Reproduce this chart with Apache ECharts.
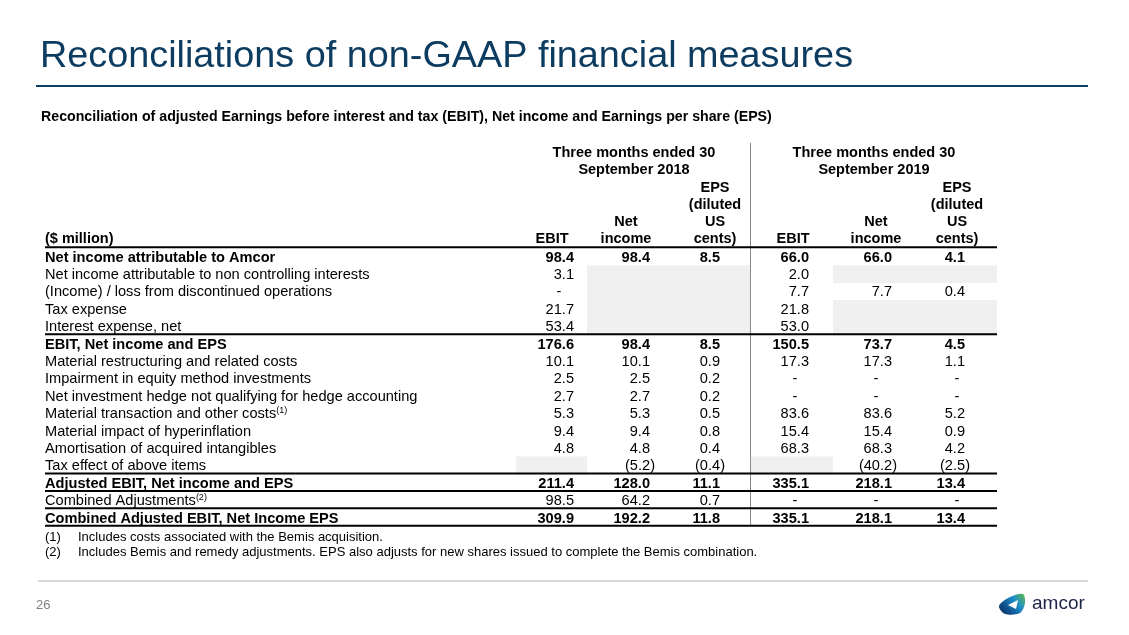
<!DOCTYPE html>
<html>
<head>
<meta charset="utf-8">
<script src="https://cdn.jsdelivr.net/npm/echarts@6/dist/echarts.min.js"></script>
<style>html,body{margin:0;padding:0;background:#fff}#c{width:1129px;height:635px}</style>
</head>
<body>
<div id="c"></div>
<script>
// ---------------- DATA ----------------
const titleText = 'Reconciliations of non-GAAP financial measures';
const subtitleText = 'Reconciliation of adjusted Earnings before interest and tax (EBIT), Net income and Earnings per share (EPS)';
const periodHeaders = ['Three months ended 30\nSeptember 2018', 'Three months ended 30\nSeptember 2019'];
const columnHeaders = ['EBIT', 'Net\nincome', 'EPS\n(diluted\nUS\ncents)', 'EBIT', 'Net\nincome', 'EPS\n(diluted\nUS\ncents)'];
const unitLabel = '($ million)';
const rowLabels = [
  'Net income attributable to Amcor',
  'Net income attributable to non controlling interests',
  '(Income) / loss from discontinued operations',
  'Tax expense',
  'Interest expense, net',
  'EBIT, Net income and EPS',
  'Material restructuring and related costs',
  'Impairment in equity method investments',
  'Net investment hedge not qualifying for hedge accounting',
  'Material transaction and other costs',
  'Material impact of hyperinflation',
  'Amortisation of acquired intangibles',
  'Tax effect of above items',
  'Adjusted EBIT, Net income and EPS',
  'Combined Adjustments',
  'Combined Adjusted EBIT, Net Income EPS'
];
const rowNoteMarks = [null, null, null, null, null, null, null, null, null, '(1)', null, null, null, null, '(2)', null];
const boldRows = [0, 5, 13, 15];
const ebit2018      = [98.4, 3.1, '-', 21.7, 53.4, 176.6, 10.1, 2.5, 2.7, 5.3, 9.4, 4.8, null, 211.4, 98.5, 309.9];
const netIncome2018 = [98.4, null, null, null, null, 98.4, 10.1, 2.5, 2.7, 5.3, 9.4, 4.8, -5.2, 128.0, 64.2, 192.2];
const eps2018       = [8.5, null, null, null, null, 8.5, 0.9, 0.2, 0.2, 0.5, 0.8, 0.4, -0.4, 11.1, 0.7, 11.8];
const ebit2019      = [66.0, 2.0, 7.7, 21.8, 53.0, 150.5, 17.3, '-', '-', 83.6, 15.4, 68.3, null, 335.1, '-', 335.1];
const netIncome2019 = [66.0, null, 7.7, null, null, 73.7, 17.3, '-', '-', 83.6, 15.4, 68.3, -40.2, 218.1, '-', 218.1];
const eps2019       = [4.1, null, 0.4, null, null, 4.5, 1.1, '-', '-', 5.2, 0.9, 4.2, -2.5, 13.4, '-', 13.4];
// shaded (not applicable) cells: [row, column]
const shadedCells = [[1,1],[1,2],[2,1],[2,2],[3,1],[3,2],[4,1],[4,2],[1,4],[1,5],[3,4],[3,5],[4,4],[4,5],[12,0],[12,3]];
// rules drawn below these rows (-1 = below header)
const ruleAfterRows = [-1, 4, 12, 13, 14, 15];
const footnoteMarks = ['(1)', '(2)'];
const footnoteTexts = [
  'Includes costs associated with the Bemis acquisition.',
  'Includes Bemis and remedy adjustments. EPS also adjusts for new shares issued to complete the Bemis combination.'
];
const pageNumber = '26';
const logoText = 'amcor';

// ---------------- LAYOUT / STYLE ----------------
const valueColumns = [ebit2018, netIncome2018, eps2018, ebit2019, netIncome2019, eps2019];
const FONT = '"Liberation Sans", Arial, Helvetica, sans-serif';
const NAVY = '#0d3c61';
const HEADER_ROWS = 6;
const BODY_SIZE = 14.6;
const TEXT_DY = 1.5;
const COL_RIGHT = [574, 650, 720, 809, 892, 965];
const COL_CENTER = [552, 626, 715, 793, 876, 957];
const DASH_CENTER = [559, 635, 711, 795, 876, 957];
const SHADE_LEFT = [516, 587, 668, 751, 833, 915];
const SHADE_RIGHT = [587, 668, 750, 833, 915, 997];
const PERIOD_CENTER = [634, 874];
const TABLE_LEFT = 45, TABLE_RIGHT = 997, DIVIDER_X = 750.5, LABEL_X = 45;
const PAREN_HANG = 5;
const FOOT_SIZE = 13;

const yCats = Array.from({length: HEADER_ROWS}, (_, i) => 'hdr' + i).concat(rowLabels);

function fmt(v) {
  if (v === '-') return '-';
  if (v < 0) return '(' + Math.abs(v).toFixed(1) + ')';
  return v.toFixed(1);
}
function band(api) { return api.size([0, 1])[1]; }
function cy(api, absRow) { return api.coord([0, absRow])[1]; }
function cx(api, x) { return api.coord([x, 0])[0]; }

const cellData = [];
valueColumns.forEach((col, c) => col.forEach((v, r) => { if (v !== null) cellData.push([c, r + HEADER_ROWS]); }));

const chart = echarts.init(document.getElementById('c'), null, {width: 1129, height: 635});
chart.setOption({
  animation: false,
  backgroundColor: '#fff',
  title: [
    {text: titleText, left: 40, top: 37.5, padding: 0,
     textStyle: {fontFamily: FONT, fontSize: 37.8, fontWeight: 'normal', color: NAVY}},
    {text: subtitleText, left: 41, top: 110.5, padding: 0,
     textStyle: {fontFamily: FONT, fontSize: 14.2, fontWeight: 'bold', color: '#000'}}
  ],
  grid: {left: 0, right: 0, top: 142.9, height: 382.8, containLabel: false},
  xAxis: {type: 'value', min: 0, max: 1129, show: false},
  yAxis: {type: 'category', data: yCats, inverse: true, show: false},
  series: [
    { // shaded cells
      type: 'custom', silent: true, clip: false,
      data: shadedCells.map(([r, c]) => [c, r + HEADER_ROWS]),
      renderItem(params, api) {
        const c = api.value(0), y = cy(api, api.value(1)), h = band(api);
        const x0 = cx(api, SHADE_LEFT[c]), x1 = cx(api, SHADE_RIGHT[c]);
        return {type: 'rect', shape: {x: x0, y: y - h / 2 + 0.5, width: x1 - x0, height: h + 0.5},
                style: {fill: '#f0f0f0'}};
      }
    },
    { // vertical divider
      type: 'custom', silent: true, clip: false,
      data: [[DIVIDER_X, 0]],
      renderItem(params, api) {
        const h = band(api);
        const top = cy(api, 0) - h / 2, bottom = cy(api, yCats.length - 1) + h / 2;
        const x = cx(api, api.value(0));
        return {type: 'line', shape: {x1: x, y1: top, x2: x, y2: bottom},
                style: {stroke: '#8a8a8a', lineWidth: 1}};
      }
    },
    { // horizontal rules
      type: 'custom', silent: true, clip: false,
      data: ruleAfterRows.map(r => [0, r + HEADER_ROWS]),
      renderItem(params, api) {
        const y = cy(api, api.value(1)) + band(api) / 2;
        return {type: 'line', shape: {x1: cx(api, TABLE_LEFT), y1: y, x2: cx(api, TABLE_RIGHT), y2: y},
                style: {stroke: '#000', lineWidth: 2}};
      }
    },
    { // row labels
      type: 'custom', silent: true, clip: false,
      data: rowLabels.map((l, r) => [LABEL_X, r + HEADER_ROWS]),
      renderItem(params, api) {
        const r = params.dataIndex;
        const bold = boldRows.includes(r);
        const note = rowNoteMarks[r];
        return {type: 'text', style: {
          x: cx(api, api.value(0)), y: cy(api, api.value(1)) + TEXT_DY,
          text: rowLabels[r] + (note ? '{sup|' + note + '}' : ''),
          rich: {sup: {fontSize: 9, fontFamily: FONT, fill: '#000', verticalAlign: 'top', lineHeight: 16}},
          align: 'left', verticalAlign: 'middle',
          fontFamily: FONT, fontSize: BODY_SIZE, fontWeight: bold ? 'bold' : 'normal', fill: '#000'
        }};
      }
    },
    { // value cells
      type: 'custom', silent: true, clip: false,
      data: cellData,
      renderItem(params, api) {
        const c = api.value(0), absRow = api.value(1), r = absRow - HEADER_ROWS;
        const v = valueColumns[c][r];
        const bold = boldRows.includes(r);
        let x, align;
        if (v === '-') { x = cx(api, DASH_CENTER[c]); align = 'center'; }
        else if (v < 0) { x = cx(api, COL_RIGHT[c] + PAREN_HANG); align = 'right'; }
        else { x = cx(api, COL_RIGHT[c]); align = 'right'; }
        return {type: 'text', style: {
          x: x, y: cy(api, absRow) + TEXT_DY, text: fmt(v), align: align, verticalAlign: 'middle',
          fontFamily: FONT, fontSize: BODY_SIZE, fontWeight: bold ? 'bold' : 'normal', fill: '#000'
        }};
      }
    },
    { // period headers
      type: 'custom', silent: true, clip: false,
      data: periodHeaders.map((t, i) => [PERIOD_CENTER[i], 0]),
      renderItem(params, api) {
        const h = band(api);
        return {type: 'text', style: {
          x: cx(api, api.value(0)), y: cy(api, api.value(1)) - h / 2 + 1.5,
          text: periodHeaders[params.dataIndex], align: 'center', verticalAlign: 'top', lineHeight: 17,
          fontFamily: FONT, fontSize: 14.5, fontWeight: 'bold', fill: '#000'
        }};
      }
    },
    { // column headers
      type: 'custom', silent: true, clip: false,
      data: columnHeaders.map((t, i) => [COL_CENTER[i], HEADER_ROWS - 1]),
      renderItem(params, api) {
        const h = band(api);
        return {type: 'text', style: {
          x: cx(api, api.value(0)), y: cy(api, api.value(1)) + h / 2,
          text: columnHeaders[params.dataIndex], align: 'center', verticalAlign: 'bottom', lineHeight: 17,
          fontFamily: FONT, fontSize: 14.5, fontWeight: 'bold', fill: '#000'
        }};
      }
    },
    { // unit label
      type: 'custom', silent: true, clip: false,
      data: [[LABEL_X, HEADER_ROWS - 1]],
      renderItem(params, api) {
        return {type: 'text', style: {
          x: cx(api, api.value(0)), y: cy(api, api.value(1)),
          text: unitLabel, align: 'left', verticalAlign: 'middle',
          fontFamily: FONT, fontSize: 14.5, fontWeight: 'bold', fill: '#000'
        }};
      }
    }
  ],
  graphic: [
    {type: 'line', silent: true, shape: {x1: 36, y1: 86, x2: 1088, y2: 86}, style: {stroke: NAVY, lineWidth: 2}},
    {type: 'text', silent: true, x: 45, y: 537, style: {text: footnoteMarks[0], fontFamily: FONT, fontSize: FOOT_SIZE, fill: '#000', verticalAlign: 'middle'}},
    {type: 'text', silent: true, x: 78, y: 537, style: {text: footnoteTexts[0], fontFamily: FONT, fontSize: FOOT_SIZE, fill: '#000', verticalAlign: 'middle'}},
    {type: 'text', silent: true, x: 45, y: 552, style: {text: footnoteMarks[1], fontFamily: FONT, fontSize: FOOT_SIZE, fill: '#000', verticalAlign: 'middle'}},
    {type: 'text', silent: true, x: 78, y: 552, style: {text: footnoteTexts[1], fontFamily: FONT, fontSize: FOOT_SIZE, fill: '#000', verticalAlign: 'middle'}},
    {type: 'line', silent: true, shape: {x1: 38, y1: 581, x2: 1088, y2: 581}, style: {stroke: '#d9d9d9', lineWidth: 2}},
    {type: 'text', silent: true, x: 36, y: 605, style: {text: pageNumber, fontFamily: FONT, fontSize: 13, fill: '#808080', verticalAlign: 'middle'}},
    {type: 'polygon', silent: true,
     shape: {points: [[999, 606], [1010, 597], [1023, 594], [1025, 603], [1020, 613], [1005, 614]], smooth: 0.3},
     style: {fill: new echarts.graphic.LinearGradient(1, 0, 0, 1, [
       {offset: 0, color: '#63bb45'}, {offset: 0.35, color: '#1f8fc9'}, {offset: 0.7, color: '#0f4f8c'}, {offset: 1, color: '#0a2d5e'}])}},
    {type: 'polygon', silent: true, shape: {points: [[1008, 605], [1018, 600], [1016, 609]]}, style: {fill: '#fff'}},
    {type: 'text', silent: true, x: 1032, y: 604, style: {text: logoText, fontFamily: FONT, fontSize: 19, fill: '#1b2447', verticalAlign: 'middle'}}
  ]
});
</script>
</body>
</html>
